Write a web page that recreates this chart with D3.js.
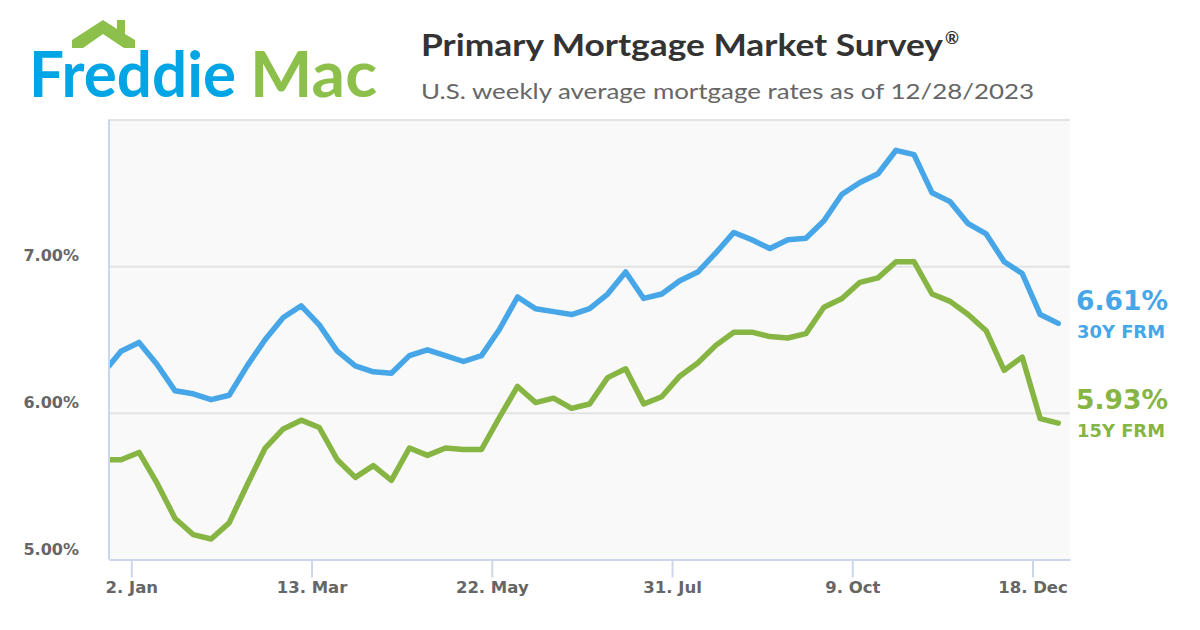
<!DOCTYPE html>
<html>
<head>
<meta charset="utf-8">
<script src="https://cdn.jsdelivr.net/npm/d3@7"></script>
<style>
  html, body { margin: 0; padding: 0; background: #ffffff; }
  svg { display: block; }
</style>
</head>
<body>
<svg id="chart" width="1200" height="630"></svg>
<script>
// ---- Data (Freddie Mac PMMS weekly averages) ----
const weeks = [
  "2022-12-22","2022-12-29",
  "2023-01-05","2023-01-12","2023-01-19","2023-01-26",
  "2023-02-02","2023-02-09","2023-02-16","2023-02-23",
  "2023-03-02","2023-03-09","2023-03-16","2023-03-23","2023-03-30",
  "2023-04-06","2023-04-13","2023-04-20","2023-04-27",
  "2023-05-04","2023-05-11","2023-05-18","2023-05-25",
  "2023-06-01","2023-06-08","2023-06-15","2023-06-22","2023-06-29",
  "2023-07-06","2023-07-13","2023-07-20","2023-07-27",
  "2023-08-03","2023-08-10","2023-08-17","2023-08-24","2023-08-31",
  "2023-09-07","2023-09-14","2023-09-21","2023-09-28",
  "2023-10-05","2023-10-12","2023-10-19","2023-10-26",
  "2023-11-02","2023-11-09","2023-11-16","2023-11-23","2023-11-30",
  "2023-12-07","2023-12-14","2023-12-21","2023-12-28"
];
const rate30 = [
  6.27, 6.42,
  6.48, 6.33, 6.15, 6.13,
  6.09, 6.12, 6.32, 6.50,
  6.65, 6.73, 6.60, 6.42, 6.32,
  6.28, 6.27, 6.39, 6.43,
  6.39, 6.35, 6.39, 6.57,
  6.79, 6.71, 6.69, 6.67, 6.71,
  6.81, 6.96, 6.78, 6.81,
  6.90, 6.96, 7.09, 7.23, 7.18,
  7.12, 7.18, 7.19, 7.31,
  7.49, 7.57, 7.63, 7.79,
  7.76, 7.50, 7.44, 7.29, 7.22,
  7.03, 6.95, 6.67, 6.61
];
const rate15 = [
  5.68, 5.68,
  5.73, 5.52, 5.28, 5.17,
  5.14, 5.25, 5.51, 5.76,
  5.89, 5.95, 5.90, 5.68, 5.56,
  5.64, 5.54, 5.76, 5.71,
  5.76, 5.75, 5.75, 5.97,
  6.18, 6.07, 6.10, 6.03, 6.06,
  6.24, 6.30, 6.06, 6.11,
  6.25, 6.34, 6.46, 6.55, 6.55,
  6.52, 6.51, 6.54, 6.72,
  6.78, 6.89, 6.92, 7.03,
  7.03, 6.81, 6.76, 6.67, 6.56,
  6.29, 6.38, 5.96, 5.93
];
const seriesNames = ["30Y FRM", "15Y FRM"];
const xTickDates = ["2023-01-02","2023-03-13","2023-05-22","2023-07-31","2023-10-09","2023-12-18"];
const yTickValues = [5, 6, 7];
const yGridValues = [6, 7, 8];
const titleText = "Primary Mortgage Market Survey";
const subtitleText = "U.S. weekly average mortgage rates as of 12/28/2023";

// ---- Layout ----
const parse = d3.utcParse("%Y-%m-%d");
const plot = { left: 109, right: 1070, top: 119.5, bottom: 559.5 };
const COL30 = "#47a6e8", COL15 = "#86b543";
const LABEL_FONT = "'DejaVu Sans', Verdana, sans-serif";
const TEXT_FONT = "Lato, 'Open Sans', sans-serif";

const svg = d3.select("#chart");

const x = d3.scaleUtc()
  .domain([new Date(Date.UTC(2022, 11, 24, 8)), new Date(Date.UTC(2024, 0, 1, 13, 30))])
  .range([plot.left, plot.right]);

const y = d3.scaleLinear().domain([5, 8]).range([plot.bottom, plot.top]);

// Plot background
svg.append("rect")
  .attr("x", plot.left).attr("y", plot.top)
  .attr("width", plot.right - plot.left).attr("height", plot.bottom - plot.top)
  .attr("fill", "#f9f9f9");

// Gridlines
const grid = svg.append("g")
  .attr("transform", `translate(${plot.left},0)`)
  .call(d3.axisLeft(y).tickValues(yGridValues).tickSize(-(plot.right - plot.left)).tickFormat(""));
grid.select(".domain").remove();
grid.selectAll(".tick line").attr("stroke", "#e3e3e3").attr("stroke-width", 2);

// Y labels
svg.append("g").selectAll("text")
  .data(yTickValues)
  .join("text")
  .attr("x", 79)
  .attr("y", d => y(d) - 5)
  .attr("text-anchor", "end")
  .style("font-family", LABEL_FONT)
  .style("font-size", "16px")
  .style("font-weight", 700)
  .attr("fill", "#666666")
  .text(d => d3.format(".2f")(d) + "%");

// X axis
const xAxis = svg.append("g")
  .attr("transform", `translate(0,${plot.bottom})`)
  .call(d3.axisBottom(x)
    .tickValues(xTickDates.map(parse))
    .tickSize(18)
    .tickSizeOuter(0)
    .tickFormat(d3.utcFormat("%-d. %b")));
xAxis.select(".domain").attr("stroke", "#ccd6eb").attr("stroke-width", 2);
xAxis.selectAll(".tick line").attr("stroke", "#ccd6eb").attr("stroke-width", 2);
xAxis.selectAll(".tick text")
  .attr("y", 0).attr("dy", 0)
  .attr("transform", "translate(0,33.5)")
  .style("font-family", LABEL_FONT)
  .style("font-size", "16.5px")
  .style("font-weight", 700)
  .attr("fill", "#666666");

// Left axis line
svg.append("line")
  .attr("x1", plot.left).attr("x2", plot.left)
  .attr("y1", plot.top).attr("y2", plot.bottom)
  .attr("stroke", "#ccd6eb").attr("stroke-width", 2);

// Clip
svg.append("clipPath").attr("id", "plotclip")
  .append("rect")
  .attr("x", plot.left + 1).attr("y", plot.top - 10)
  .attr("width", plot.right - plot.left).attr("height", plot.bottom - plot.top + 10);

const line = d3.line()
  .x((d, i) => x(parse(weeks[i])))
  .y(d => y(d));

const lines = svg.append("g").attr("clip-path", "url(#plotclip)");
[[rate15, COL15], [rate30, COL30]].forEach(([vals, col]) => {
  lines.append("path")
    .datum(vals)
    .attr("d", line)
    .attr("fill", "none")
    .attr("stroke", col)
    .attr("stroke-width", 5.5)
    .attr("stroke-linejoin", "round")
    .attr("stroke-linecap", "round");
});

// End labels
function endLabel(vals, name, col, yVal, yName) {
  svg.append("text")
    .attr("x", 1076).attr("y", yVal)
    .style("font-family", LABEL_FONT)
    .style("font-size", "27px").style("font-weight", 700).attr("fill", col)
    .attr("textLength", 92).attr("lengthAdjust", "spacingAndGlyphs")
    .text(d3.format(".2f")(vals[vals.length - 1]) + "%");
  svg.append("text")
    .attr("x", 1077).attr("y", yName)
    .style("font-family", LABEL_FONT)
    .style("font-size", "17.5px").style("font-weight", 700).attr("fill", col)
    .attr("textLength", 88).attr("lengthAdjust", "spacingAndGlyphs")
    .text(name);
}
endLabel(rate30, seriesNames[0], COL30, 310, 338);
endLabel(rate15, seriesNames[1], COL15, 409, 437);

// Title & subtitle
svg.append("text")
  .attr("x", 421).attr("y", 56)
  .style("font-family", TEXT_FONT)
  .style("font-size", "30px").style("font-weight", 700).attr("fill", "#333333")
  .attr("textLength", 522).attr("lengthAdjust", "spacingAndGlyphs")
  .text(titleText);
svg.append("text")
  .attr("x", 945).attr("y", 44)
  .style("font-family", TEXT_FONT)
  .style("font-size", "17px").style("font-weight", 700).attr("fill", "#333333")
  .text("®");
svg.append("text")
  .attr("x", 421).attr("y", 99)
  .style("font-family", TEXT_FONT)
  .style("font-size", "22px").style("font-weight", 400).attr("fill", "#666666")
  .attr("textLength", 613).attr("lengthAdjust", "spacingAndGlyphs")
  .text(subtitleText);

// Logo
const logo = svg.append("g");
logo.append("path")
  .attr("d", "M72,40 L103,20 L117,29 L117,20 L125,20 L125,34 L135,40 L135,48 L124,48 L103,34 L83,48 L72,48 Z")
  .attr("fill", "#8cc04b");
logo.append("text")
  .attr("x", 29).attr("y", 97)
  .style("font-family", TEXT_FONT)
  .style("font-size", "64px").style("font-weight", 700).attr("fill", "#00a5e5")
  .attr("textLength", 207).attr("lengthAdjust", "spacingAndGlyphs")
  .text("Freddie");
logo.append("text")
  .attr("x", 250).attr("y", 97)
  .style("font-family", TEXT_FONT)
  .style("font-size", "64px").style("font-weight", 700).attr("fill", "#8cc04b")
  .attr("textLength", 127).attr("lengthAdjust", "spacingAndGlyphs")
  .text("Mac");
</script>
</body>
</html>
